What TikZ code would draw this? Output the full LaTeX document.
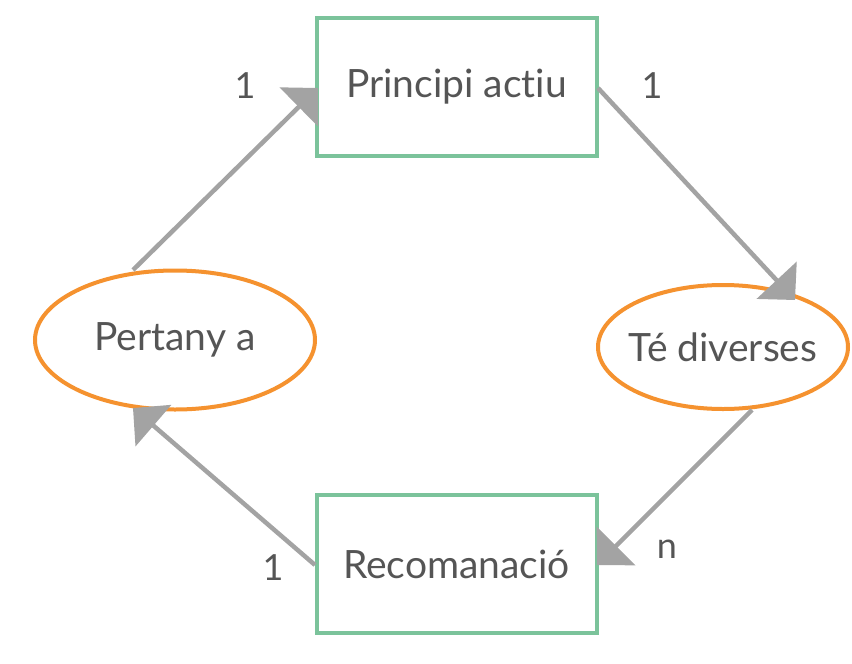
\documentclass[tikz,border=0pt]{standalone}
\usepackage{fontspec}
\setmainfont{Lato}[RawFeature=-liga]
\usetikzlibrary{arrows.meta,shapes.geometric}
\definecolor{boxgreen}{HTML}{7BC39B}
\definecolor{ellorange}{HTML}{F5922F}
\definecolor{arrgray}{HTML}{A3A3A3}
\definecolor{txtgray}{HTML}{555555}
\tikzset{
  entity/.style={draw=boxgreen,line width=4pt,fill=white,minimum width=280pt,minimum height=138pt,inner sep=0pt,text=txtgray,font=\fontsize{39}{46}\selectfont},
  relation/.style={ellipse,draw=ellorange,line width=4pt,fill=white,inner xsep=-30pt,inner ysep=0pt,text=txtgray,font=\fontsize{39}{46}\selectfont},
  conn/.style={draw=arrgray,line width=4.5pt,-{Triangle[length=27pt,width=54pt]}},
  card/.style={text=txtgray,font=\fontsize{36}{42}\selectfont,inner sep=0pt}
}
\begin{document}
\begin{tikzpicture}[x=1pt,y=-1pt]
\useasboundingbox (0,0) rectangle (852,664);
\node[entity] (pa) at (456.5,86.5) {Principi actiu};
\node[entity] (rec) at (456.5,564) {Recomanació};
\node[relation,minimum width=280pt,minimum height=139pt] (per) at (175,340) {Pertany a};
\node[relation,minimum width=250pt,minimum height=124pt] (te) at (723,347) {Té diverses};
\coordinate (p1) at (133,270);
\coordinate (t1) at (318,88);
\coordinate (p2) at (598,88);
\coordinate (t2) at (795,300);
\coordinate (p3) at (752,410);
\coordinate (t3) at (597,565);
\coordinate (p4) at (315,565);
\coordinate (t4) at (133,408);
\draw[conn] (p1) -- (t1);
\draw[conn] (p2) -- (t2);
\draw[conn] (p3) -- (t3);
\draw[conn] (p4) -- (t4);
\node[card] (c1) at (245,86) {1};
\node[card] (c2) at (652,86) {1};
\node[card] (c3) at (667,549) {n};
\node[card] (c4) at (273,568) {1};
\end{tikzpicture}
\end{document}
